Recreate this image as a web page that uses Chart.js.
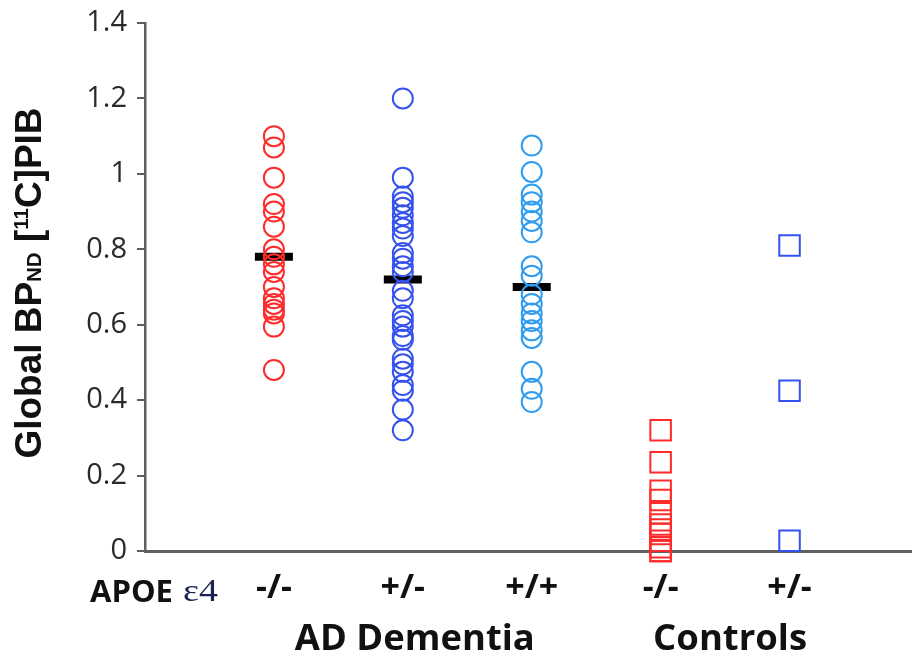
<!DOCTYPE html>
<html>
<head>
<meta charset="utf-8">
<script src="https://cdn.jsdelivr.net/npm/chart.js@4.4.0/dist/chart.umd.min.js"></script>
<style>
  html, body { margin: 0; padding: 0; background: #fff; }
  #wrap { width: 912px; height: 657px; }
</style>
</head>
<body>
<div id="wrap"><canvas id="pibChart" width="912" height="657"></canvas></div>
<script>
// Grupos APOE e4 (AD Dementia: -/-, +/-, +/+ ; Controls: -/-, +/-)
const categories = ["-/-", "+/-", "+/+", "-/-", "+/-"];
const groupNames = ["AD Dementia", "Controls"];
const yTicks = [0, 0.2, 0.4, 0.6, 0.8, 1, 1.2, 1.4];

const adNegNeg = [1.10, 1.07, 0.99, 0.92, 0.90, 0.86, 0.80, 0.78, 0.76, 0.74, 0.70, 0.67, 0.655, 0.64, 0.63, 0.595, 0.48];
const adPosNeg = [1.20, 0.99, 0.94, 0.925, 0.91, 0.89, 0.87, 0.855, 0.835, 0.79, 0.775, 0.755, 0.74, 0.69, 0.67, 0.625, 0.61, 0.595, 0.57, 0.56, 0.51, 0.495, 0.475, 0.44, 0.425, 0.375, 0.32];
const adPosPos = [1.075, 1.005, 0.945, 0.925, 0.90, 0.875, 0.845, 0.755, 0.73, 0.68, 0.655, 0.63, 0.61, 0.585, 0.565, 0.475, 0.43, 0.395];
const ctlNegNeg = [0.32, 0.235, 0.16, 0.135, 0.10, 0.07, 0.057, 0.045, 0.027, 0.01, 0.0, 0.0];
const ctlPosNeg = [0.81, 0.425, 0.027];
const groupMeans = [0.78, 0.72, 0.70];

const RED = "#ff2a2a";
const BLUE = "#3552ee";
const LIGHTBLUE = "#2f9cf0";
const AXIS = "#5f5f5f";
const LABEL_FONT = "'Open Sans', sans-serif";

const toPoints = (values, x) => values.map(v => ({ x: x, y: v }));

function group(values, x, color, style, radius) {
  return {
    data: toPoints(values, x),
    pointStyle: style,
    pointRadius: radius,
    pointBorderColor: color,
    pointBackgroundColor: "rgba(0,0,0,0)",
    pointBorderWidth: 2,
    showLine: false,
    clip: false
  };
}

// texto estirado en horizontal hasta un ancho dado
function fitText(ctx, text, x, y, width) {
  const w = ctx.measureText(text).width;
  ctx.save();
  ctx.translate(x, y);
  ctx.scale(width / w, 1);
  ctx.fillText(text, 0, 0);
  ctx.restore();
}

// Etiquetas del eje X y título del eje Y (con sub/superíndice)
const extraText = {
  id: "extraText",
  afterDraw(chart) {
    const ctx = chart.ctx;
    const x = chart.scales.x;

    ctx.save();
    ctx.fillStyle = "#111";
    ctx.textBaseline = "alphabetic";
    ctx.textAlign = "center";

    // categorías APOE
    ctx.font = `bold 34px ${LABEL_FONT}`;
    categories.forEach((c, i) => {
      ctx.fillText(c, x.getPixelForValue(i + 1), 598);
    });

    ctx.textAlign = "left";
    ctx.font = `bold 31px ${LABEL_FONT}`;
    fitText(ctx, "APOE", 90, 602, 83);
    ctx.font = "32px 'Liberation Serif', serif";
    ctx.fillStyle = "#1b2150";
    fitText(ctx, "ε4", 183, 601, 35);

    ctx.fillStyle = "#111";
    ctx.textAlign = "center";
    ctx.font = `bold 36px ${LABEL_FONT}`;
    fitText(ctx, groupNames[0], (x.getPixelForValue(1) + x.getPixelForValue(3)) / 2 + 12, 650, 240);
    fitText(ctx, groupNames[1], (x.getPixelForValue(4) + x.getPixelForValue(5)) / 2 + 5, 650, 154);
    ctx.restore();

    // Global BP_ND [11C]PIB, girado
    const parts = [
      { t: "Global BP", size: 36, dy: 0 },
      { t: "ND", size: 20, dy: 0 },
      { t: " [", size: 36, dy: 0 },
      { t: "11", size: 20, dy: -13 },
      { t: "C]PIB", size: 36, dy: 0 }
    ];
    ctx.save();
    ctx.translate(41, 283);
    ctx.rotate(-Math.PI / 2);
    ctx.fillStyle = "#111";
    ctx.textBaseline = "alphabetic";
    ctx.textAlign = "left";
    let total = 0;
    parts.forEach(p => {
      ctx.font = `bold ${p.size}px 'Liberation Sans', Arial, sans-serif`;
      p.w = ctx.measureText(p.t).width;
      total += p.w;
    });
    const k = 351 / total;
    ctx.scale(k, 1);
    let cx = -total / 2;
    parts.forEach(p => {
      ctx.font = `bold ${p.size}px 'Liberation Sans', Arial, sans-serif`;
      ctx.fillText(p.t, cx, p.dy);
      cx += p.w;
    });
    ctx.restore();
  }
};

new Chart(document.getElementById("pibChart").getContext("2d"), {
  type: "scatter",
  data: {
    datasets: [
      group(adNegNeg, 1, RED, "circle", 10),
      group(adPosNeg, 2, BLUE, "circle", 10),
      group(adPosPos, 3, LIGHTBLUE, "circle", 10),
      group(ctlNegNeg, 4, RED, "rect", 14.5),
      group(ctlPosNeg, 5, BLUE, "rect", 14.5),
      {
        // medias de los grupos AD
        data: groupMeans.map((m, i) => ({ x: i + 1, y: m })),
        pointStyle: "line",
        pointRadius: 19,
        pointBorderColor: "#000",
        pointBorderWidth: 8,
        showLine: false,
        clip: false
      }
    ]
  },
  options: {
    responsive: false,
    animation: false,
    events: [],
    layout: { autoPadding: false, padding: { top: 23, right: 0, left: 0, bottom: 0 } },
    plugins: {
      legend: { display: false },
      tooltip: { enabled: false }
    },
    scales: {
      x: {
        type: "linear",
        min: 0,
        max: 5.95,
        afterBuildTicks: scale => {
          scale.ticks = categories.map((c, i) => ({ value: i + 1 }));
        },
        afterFit: scale => {
          scale.height = 106;
          scale.paddingLeft = 0;
          scale.paddingRight = 0;
        },
        grid: { display: false },
        border: { display: true, color: AXIS, width: 3 },
        ticks: { display: false }
      },
      y: {
        min: 0,
        max: 1.4,
        afterBuildTicks: scale => {
          scale.ticks = yTicks.map(v => ({ value: v }));
        },
        afterFit: scale => {
          scale.width = 145;
          scale.paddingTop = 0;
          scale.paddingBottom = 0;
        },
        grid: { display: true, drawOnChartArea: false, drawTicks: true, tickLength: 8, color: AXIS, lineWidth: 2 },
        border: { display: true, color: AXIS, width: 2.5 },
        ticks: {
          padding: 10,
          color: "#2a2a2a",
          font: { family: LABEL_FONT, size: 29 },
          callback: v => String(Number(v.toFixed(1)))
        }
      }
    }
  },
  plugins: [extraText]
});
</script>
</body>
</html>
